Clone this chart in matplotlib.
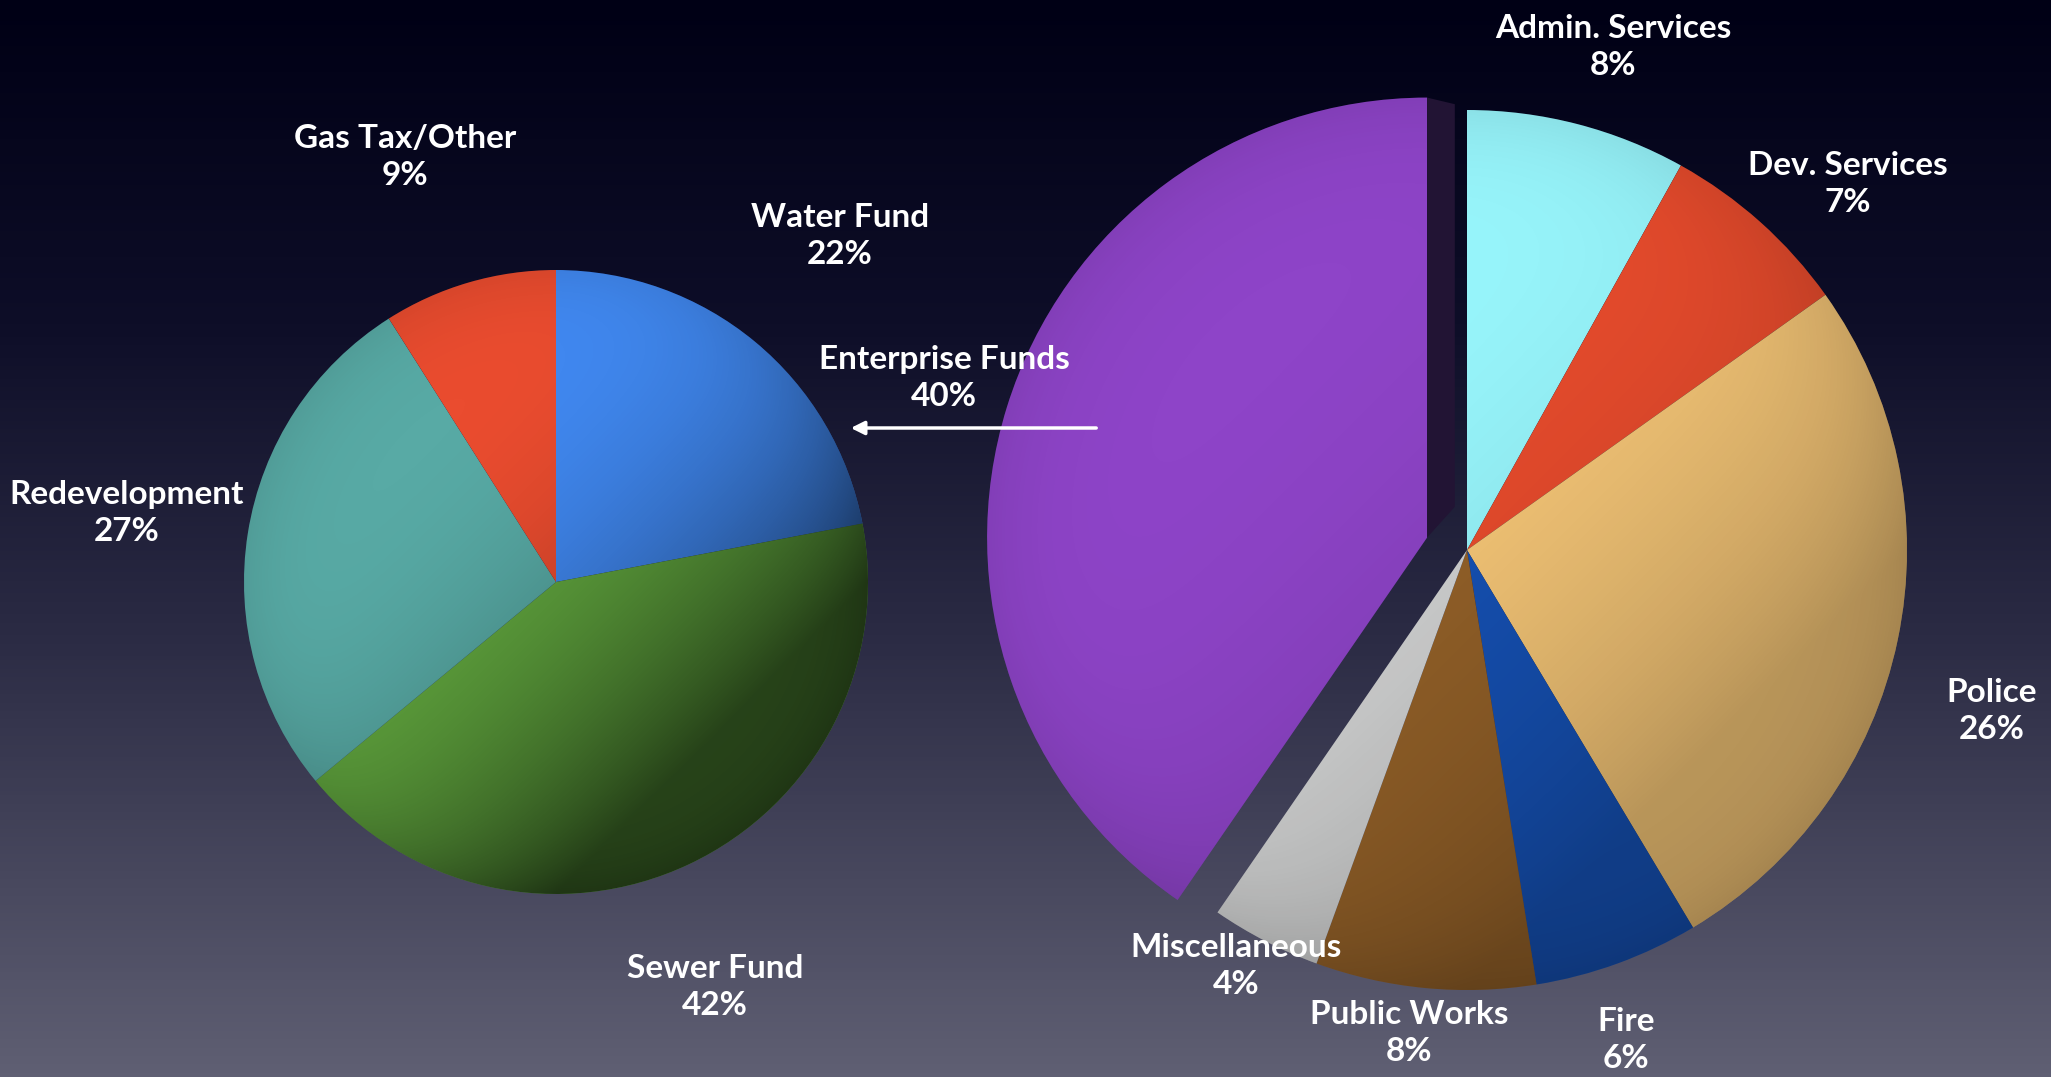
import numpy as np
import matplotlib
matplotlib.use("Agg")
import matplotlib.pyplot as plt
from matplotlib.colors import LinearSegmentedColormap
from matplotlib.patches import Polygon, FancyArrowPatch

# --- data -------------------------------------------------------------
left_labels = ["Water Fund", "Sewer Fund", "Redevelopment", "Gas Tax/Other"]
left_values = [22, 42, 27, 9]
left_colors = ["#4189f2", "#62a83f", "#58aaa5", "#ea4c2f"]

right_labels = ["Admin. Services", "Dev. Services", "Police", "Fire",
                "Public Works", "Miscellaneous", "Enterprise Funds"]
right_values = [8, 7, 26, 6, 8, 4, 40]
right_colors = ["#98f6fc", "#e94c2d", "#f8c878", "#1652b6",
                "#956229", "#d2d3d3", "#8e44c8"]
right_explode = [0, 0, 0, 0, 0, 0, 0.095]

# label anchor positions in figure pixels (x, y from top)
left_label_pos = [(840, 236), (715, 987), (127, 513), (405, 157)]
right_label_pos = [(1613, 47), (1848, 184), (1992, 711), (1626, 1040),
                   (1409, 1033), (1236, 966), (944, 378)]

W, H = 2051, 1077
plt.rcParams['font.family'] = ['Lato', 'DejaVu Sans']

fig = plt.figure(figsize=(W / 100, H / 100), dpi=100)

# background gradient
bg = fig.add_axes([0, 0, 1, 1])
bg_cmap = LinearSegmentedColormap.from_list(
    "bg", [(0.0, "#000015"), (0.3, "#0e0e28"), (0.6, "#2c2c45"), (1.0, "#5f5f73")])
bg.imshow(np.linspace(0, 1, 256).reshape(-1, 1), aspect="auto", cmap=bg_cmap,
          extent=[0, 1, 0, 1], origin="upper")
bg.set_axis_off()


def pie_axes(cx, cy, r, pad=1.0):
    """Axes where data radius 1 equals r pixels, centred at (cx, cy) from top."""
    half = r * pad
    ax = fig.add_axes([(cx - half) / W, 1 - (cy + half) / H, 2 * half / W, 2 * half / H])
    return ax


def fix_limits(ax, pad):
    ax.set_xlim(-pad, pad)
    ax.set_ylim(-pad, pad)
    ax.set_axis_off()


def shade(ax, wedges, strength=0.3):
    # soft light from the upper left, darker toward the lower right rim
    n = 300
    yy, xx = np.mgrid[1:-1:n * 1j, -1:1:n * 1j]
    lin = np.clip((xx - yy) * 0.5 + 0.5, 0, 1)
    rad = np.clip(np.hypot(xx, yy), 0, 1.2)
    alpha = strength * lin ** 2.2 + 0.08 * rad ** 8
    img = np.zeros((n, n, 4))
    img[..., 3] = np.clip(alpha, 0, 0.75)
    for w in wedges:
        c = w.center
        im = ax.imshow(img, extent=[c[0] - 1, c[0] + 1, c[1] - 1, c[1] + 1],
                       zorder=3, interpolation="bilinear")
        im.set_clip_path(w)


# left pie
axl = pie_axes(556, 582, 312)
wl, _ = axl.pie(left_values, colors=left_colors, startangle=90, counterclock=False,
                radius=1, wedgeprops=dict(linewidth=0))
shade(axl, wl, strength=0.6)
fix_limits(axl, 1.0)

# right pie
axr = pie_axes(1467, 550, 440, pad=1.2)
wr, _ = axr.pie(right_values, colors=right_colors, startangle=90, counterclock=False,
                radius=1, explode=right_explode, wedgeprops=dict(linewidth=0))
shade(axr, wr, strength=0.25)

# thickness face of the pulled-out wedge
ex = wr[-1]
cxe, cye = ex.center
face = Polygon([(cxe, cye), (cxe, cye + 1), (cxe + 0.063, cye + 0.985),
                (cxe + 0.063, cye + 0.07)], closed=True,
               facecolor="#221434", edgecolor="none", zorder=4)
axr.add_patch(face)
fix_limits(axr, 1.2)


def put_label(x, y, text):
    fig.text(x / W, 1 - y / H, text, ha="center", va="center", color="white",
             fontsize=24, fontweight="bold", linespacing=1.3, zorder=10)


for (x, y), lab, val in zip(left_label_pos, left_labels, left_values):
    put_label(x, y, f"{lab}\n{val}%")
for (x, y), lab, val in zip(right_label_pos, right_labels, right_values):
    put_label(x, y, f"{lab}\n{val}%")

# arrow from the pulled-out wedge toward the left pie
fig.add_artist(FancyArrowPatch(
    (1099 / W, 1 - 428 / H), (848 / W, 1 - 428 / H), transform=fig.transFigure,
    arrowstyle="-|>,head_length=8,head_width=4", color="white", lw=2.5,
    mutation_scale=1, zorder=11))

fig.savefig("out.png", dpi=100, facecolor="black")
